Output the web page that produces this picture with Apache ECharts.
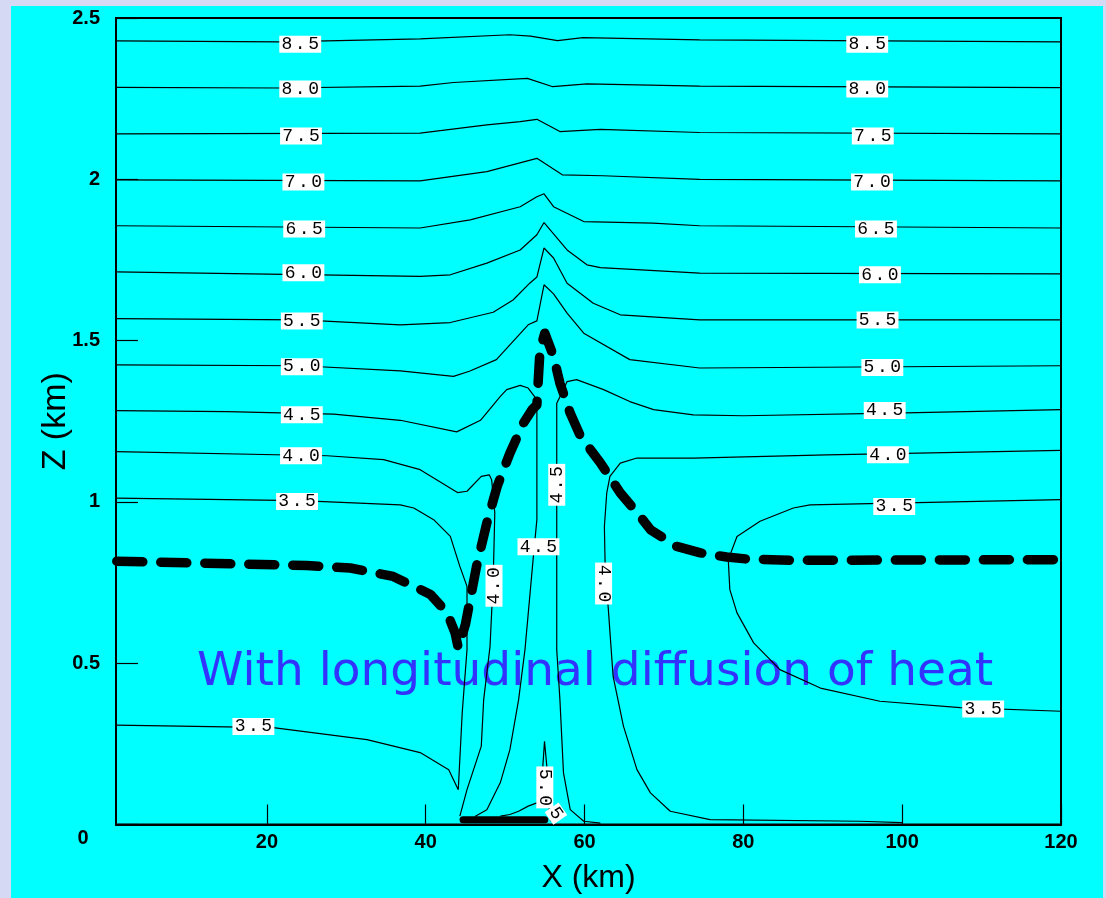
<!DOCTYPE html>
<html>
<head>
<meta charset="utf-8">
<script src="https://cdn.jsdelivr.net/npm/echarts@6/dist/echarts.min.js"></script>
<style>
  html, body { margin: 0; padding: 0; background: #d5d9f3; }
  #chart { position: absolute; left: 11px; top: 6px; width: 1092px; height: 892px; }
</style>
</head>
<body>
<div id="chart"></div>
<script>
// Contour lines, points as [x km, z km]
const c85 = [[1,2.429],[21.7,2.426],[39.3,2.435],[50.6,2.448],[53.2,2.444],[56.6,2.430],[59.8,2.439],[74.5,2.432],[120,2.426]];
const c80 = [[1,2.285],[21.7,2.283],[39.3,2.289],[43.5,2.300],[52.8,2.313],[56.0,2.287],[60.3,2.296],[74.5,2.289],[120,2.284]];
const c75 = [[1,2.141],[39.3,2.143],[47.7,2.169],[51.9,2.179],[54.0,2.186],[56.9,2.148],[62.0,2.155],[74.5,2.145],[120,2.141]];
const c70 = [[1,1.998],[39.3,1.995],[47.7,2.024],[54.0,2.065],[57.2,2.014],[62.3,2.011],[74.5,2.000],[120,1.995]];
const c65 = [[1,1.856],[39.3,1.849],[45.6,1.874],[51.9,1.915],[54.0,1.946],[54.9,1.955],[56.1,1.915],[59.9,1.869],[68.6,1.864],[74.5,1.856],[120,1.849]];
const c60 = [[1,1.713],[39.3,1.699],[43.1,1.704],[47.7,1.740],[51.9,1.781],[54.0,1.828],[54.9,1.866],[57.8,1.781],[60.3,1.735],[62.0,1.726],[74.5,1.709],[120,1.707]];
const c55 = [[1,1.568],[24.2,1.564],[36.8,1.549],[43.1,1.556],[48.5,1.588],[51.0,1.626],[53.1,1.678],[54.0,1.697],[54.9,1.787],[56.1,1.756],[57.8,1.678],[61.1,1.616],[64.5,1.580],[74.5,1.564],[120,1.564]];
const c50 = [[1,1.425],[24.2,1.422],[36.8,1.406],[43.5,1.389],[45.5,1.405],[48.9,1.441],[52.9,1.549],[54.0,1.561],[54.9,1.673],[56.1,1.645],[57.8,1.585],[59.9,1.523],[65.7,1.441],[74.5,1.415],[120,1.422]];
const c45a = [[1,1.283],[15.0,1.280],[28.4,1.272],[36.8,1.253],[43.9,1.217],[46.9,1.253],[49.4,1.327],[50.2,1.348],[51.9,1.361],[52.9,1.353],[54.0,1.317],[54.0,0.945],[53.6,0.842],[52.5,0.542],[51.7,0.387],[50.6,0.232],[49.4,0.130],[47.7,0.046],[46.2,0.025]];
const c45b = [[120,1.286],[98.9,1.275],[80.0,1.267],[73.7,1.270],[68.7,1.286],[65.7,1.311],[62.4,1.348],[59.0,1.379],[57.8,1.373],[57.35,1.348],[56.5,1.306],[56.5,0.542],[56.9,0.387],[57.35,0.160],[58.2,0.046],[59.9,0.010],[62,0.004]];
const c40a = [[1,1.156],[27.6,1.143],[34.7,1.131],[39.3,1.100],[44.0,1.029],[45.2,1.033],[47.0,1.079],[48.0,1.084],[48.3,1.069],[48.7,0.966],[48.5,0.759],[48.1,0.552],[47.3,0.387],[47.0,0.243],[45.2,0.108],[44.3,0.026]];
const c40b = [[120,1.160],[90.5,1.146],[73.7,1.136],[66.6,1.136],[64.5,1.120],[63.2,1.079],[62.8,1.028],[62.5,0.924],[62.6,0.800],[63.0,0.666],[63.6,0.459],[64.9,0.305],[66.6,0.170],[68.3,0.098],[70.8,0.041],[75.8,0.015],[94.7,0.010],[100,0.006]];
const c35a = [[1,1.012],[24.2,1.004],[36.8,0.991],[38.5,0.981],[41.0,0.945],[43.1,0.893],[44.3,0.800],[45.2,0.738],[45.2,0.542],[44.6,0.347],[44.1,0.108],[42.9,0.170],[39.3,0.223],[32.6,0.263],[20.8,0.300],[1,0.308]];
const c35b = [[120,1.007],[88.4,0.991],[86.3,0.981],[82.1,0.940],[79.2,0.893],[78.1,0.821],[78.3,0.728],[79.2,0.656],[81.3,0.563],[84.6,0.480],[89.7,0.423],[97.2,0.382],[107.3,0.362],[120,0.351]];
const c50b = [[49.4,0.026],[50.6,0.031],[51.7,0.041],[52.9,0.057],[54.0,0.067],[54.4,0.072],[54.75,0.181],[54.96,0.258],[55.25,0.181],[55.4,0.10],[55.6,0.03],[55.8,0.01]];
const contours = [c85, c80, c75, c70, c65, c60, c55, c50, c45a, c45b, c40a, c40b, c35a, c35b, c50b];

// thick dashed line and the thick bar on the ground
const dashedLine = [[1.1,0.816],[25.0,0.803],[30.5,0.795],[35.9,0.769],[40.6,0.713],[42.7,0.656],[43.7,0.594],[44.1,0.547],[45.0,0.620],[46.4,0.800],[47.7,0.935],[49.0,1.048],[50.6,1.151],[52.3,1.244],[53.4,1.286],[54.0,1.301],[54.2,1.389],[54.4,1.472],[55.0,1.523],[56.1,1.451],[56.9,1.368],[58.2,1.275],[59.5,1.203],[62.0,1.121],[64.5,1.028],[67.0,0.955],[68.3,0.914],[71.6,0.862],[74.6,0.842],[77.9,0.829],[80.4,0.823],[86.3,0.819],[120,0.821]];
const groundBar = [[44.7,0.015],[55.0,0.015]];

// contour labels: [x km, z km, text, rotation]
const contourLabels = [
  [24.2,2.419,'8.5',0],[24.2,2.280,'8.0',0],[24.3,2.134,'7.5',0],[24.6,1.992,'7.0',0],
  [24.7,1.846,'6.5',0],[24.6,1.710,'6.0',0],[24.4,1.561,'5.5',0],[24.4,1.419,'5.0',0],
  [24.4,1.270,'4.5',0],[24.3,1.143,'4.0',0],[23.8,1.001,'3.5',0],[18.3,0.304,'3.5',0],
  [95.6,2.419,'8.5',0],[95.6,2.280,'8.0',0],[96.3,2.134,'7.5',0],[96.2,1.992,'7.0',0],
  [96.7,1.846,'6.5',0],[97.2,1.704,'6.0',0],[96.9,1.564,'5.5',0],[97.5,1.417,'5.0',0],
  [97.8,1.283,'4.5',0],[98.2,1.146,'4.0',0],[99.0,0.986,'3.5',0],[110.2,0.358,'3.5',0],
  [56.5,1.053,'4.5',90],[54.2,0.861,'4.5',0],[48.6,0.740,'4.0',90],[62.4,0.747,'4.0',-90],
  [55.0,0.115,'5.0',-90],[56.4,0.034,'5',-55]
];
const xTicks = [20, 40, 60, 80, 100, 120];

const chart = echarts.init(document.getElementById('chart'));

const lineSeries = contours.map(pts => ({
  type: 'line',
  data: pts,
  showSymbol: false,
  silent: true,
  lineStyle: { color: '#000', width: 1.2 },
  z: 3
}));

const option = {
  backgroundColor: '#00ffff',
  animation: false,
  grid: {
    left: 105, top: 12, right: 42, bottom: 73.5,
    outerBoundsMode: 'none', containLabel: false,
    show: true, borderColor: '#000', borderWidth: 2
  },
  title: {
    text: 'With longitudinal diffusion of heat',
    left: 186,
    top: 643,
    padding: 0,
    z: 1,
    textStyle: { color: '#3333ff', fontFamily: 'DejaVu Sans', fontSize: 47, fontWeight: 'normal' }
  },
  graphic: [{
    type: 'text', x: 72, y: 832,
    style: { text: '0', font: 'bold 20px "Liberation Sans", Arial', fill: '#000', align: 'center', verticalAlign: 'middle' }
  }],
  xAxis: {
    type: 'value', min: 1, max: 120,
    name: 'X (km)', nameLocation: 'middle', nameGap: 38,
    nameTextStyle: { fontFamily: 'Liberation Sans', fontSize: 32, color: '#000' },
    axisLine: { show: true, lineStyle: { color: '#000', width: 2 } },
    axisTick: { inside: true, length: 20, customValues: xTicks, lineStyle: { color: '#000', width: 1.2 } },
    axisLabel: { customValues: xTicks, margin: 8, color: '#000', fontFamily: 'Liberation Sans', fontWeight: 'bold', fontSize: 20 },
    splitLine: { show: false }
  },
  yAxis: {
    type: 'value', min: 0, max: 2.5, interval: 0.5,
    name: 'Z (km)', nameLocation: 'middle', nameGap: 43, nameRotate: 90,
    nameMoveOverlap: false,
    nameTextStyle: { fontFamily: 'Liberation Sans', fontSize: 34, color: '#000' },
    axisLine: { show: true, lineStyle: { color: '#000', width: 2 } },
    axisTick: { inside: true, length: 22, lineStyle: { color: '#000', width: 1.2 } },
    axisLabel: {
      margin: 16, color: '#000', fontFamily: 'Liberation Sans', fontWeight: 'bold', fontSize: 20,
      formatter: v => (v === 0 ? '' : String(v))
    },
    splitLine: { show: false }
  },
  series: lineSeries.concat([
    {
      type: 'line', data: dashedLine, showSymbol: false, silent: true, z: 4,
      lineStyle: { color: '#000', width: 9.5, type: [26, 18], cap: 'round', join: 'round' }
    },
    {
      type: 'line', data: groundBar, showSymbol: false, silent: true, z: 4,
      lineStyle: { color: '#000', width: 7, cap: 'round' }
    },
    {
      type: 'scatter', silent: true, z: 5,
      symbolSize: 1,
      itemStyle: { color: '#ffffff', opacity: 1 },
      data: contourLabels.map(p => ({ value: [p[0], p[1]], name: p[2], label: { rotate: p[3] } })),
      label: {
        show: true, position: 'inside', opacity: 1,
        formatter: params => params.name.split('').map(ch => '{c|' + ch + '}').join(''),
        backgroundColor: '#ffffff', padding: [1, 1],
        rich: { c: { width: 13.3, align: 'center', fontFamily: 'Liberation Mono', fontSize: 18, lineHeight: 15, color: '#000', opacity: 1 } }
      }
    }
  ])
};

chart.setOption(option);
</script>
</body>
</html>
